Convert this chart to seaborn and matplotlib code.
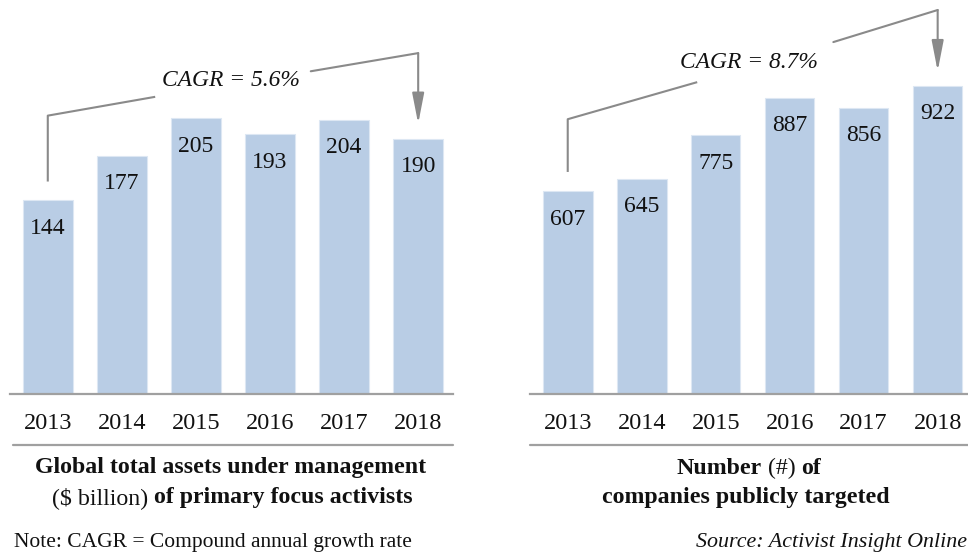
import matplotlib
matplotlib.use("Agg")
import matplotlib.pyplot as plt
import seaborn as sns
import pandas as pd

years = ["2013", "2014", "2015", "2016", "2017", "2018"]
aum_values = [144, 177, 205, 193, 204, 190]
targeted_values = [607, 645, 775, 887, 856, 922]
cagr_left = "CAGR = 5.6%"
cagr_right = "CAGR = 8.7%"

sns.set_theme(style="white")
FONT = "Liberation Serif"
plt.rcParams["font.family"] = FONT
plt.rcParams["font.serif"] = [FONT]

BAR = "#b9cde5"
GREY = "#8a8a8a"
AX_GREY = "#a0a0a0"
TXT = "#111111"
W, H = 968, 553
fig = plt.figure(figsize=(9.68, 5.53), dpi=100)

base_px = 394

def make_axes(x0, x1, ymax, values, xlim):
    ax = fig.add_axes([x0 / W, (H - base_px) / H, (x1 - x0) / W, base_px / H])
    df = pd.DataFrame({"year": years, "value": values})
    sns.barplot(data=df, x="year", y="value", color=BAR, width=0.67,
                edgecolor="#dde7f3", linewidth=0.8, saturation=1, ax=ax)
    ax.set_xlim(*xlim)
    ax.set_ylim(0, ymax)
    ax.set_xlabel("")
    ax.set_ylabel("")
    ax.set_yticks([])
    for s in ["top", "left", "right"]:
        ax.spines[s].set_visible(False)
    ax.spines["bottom"].set_color(AX_GREY)
    ax.spines["bottom"].set_linewidth(1.6)
    ax.tick_params(axis="x", length=0, pad=13.5, labelsize=17.5, colors=TXT)
    for lab in ax.get_xticklabels():
        lab.set_fontfamily(FONT)
    ax.patch.set_alpha(0)
    for i, v in enumerate(values):
        ax.annotate(str(v), (i, v), xytext=(0, -20), textcoords="offset points",
                    ha="center", va="center", fontsize=17, color=TXT,
                    fontfamily=FONT)
    return ax

axL = make_axes(10, 453, 293, aum_values, (-0.51, 5.47))
axR = make_axes(530, 968, 1180, targeted_values, (-0.51, 5.41))

# second rule under year labels
for ax, xs in [(axL, 0.007), (axR, 0.0)]:
    yb = -(445 - base_px) / base_px
    ax.plot([xs, 1], [yb, yb], transform=ax.transAxes, color=AX_GREY,
            lw=1.6, clip_on=False)

def bracket(ax, values, y_start_off, y_top, x_mid1, y_mid1, x_text, y_text,
            x_mid2, y_mid2, y_peak, arrow_off, text):
    n = len(values) - 1
    ax.plot([0, 0, x_mid1], [values[0] + y_start_off, y_top, y_mid1],
            color=GREY, lw=1.5, clip_on=False, solid_capstyle="butt")
    ax.plot([x_mid2, n], [y_mid2, y_peak], color=GREY, lw=1.5, clip_on=False)
    ax.annotate("", xy=(n, values[-1] + arrow_off), xytext=(n, y_peak),
                arrowprops=dict(arrowstyle="-|>,head_length=1.85,head_width=0.36",
                                mutation_scale=10, color=GREY, lw=1.5,
                                shrinkA=0, shrinkB=0), annotation_clip=False)
    ax.text(x_text, y_text, text, ha="center", va="center", fontsize=16.9,
            style="italic", color=TXT, fontfamily=FONT)

bracket(axL, aum_values, 14, 207, 1.45, 221, 2.47, 233, 3.55, 240, 253.5, 11, cagr_left)
bracket(axR, targeted_values, 58, 823, 1.75, 934, 2.45, 994, 3.59, 1054, 1150, 45, cagr_right)

# mixed-weight titles
fig.canvas.draw()
renderer = fig.canvas.get_renderer()

def rich_line(xc_px, yc_px, pieces, size=17.2):
    texts = []
    widths = []
    for s, w in pieces:
        t = fig.text(0, 1 - yc_px / H, s, fontsize=size, fontweight=w,
                     ha="left", va="center", color=TXT, fontfamily=FONT)
        texts.append(t)
        widths.append(t.get_window_extent(renderer).width)
    gap = 6
    total = sum(widths) + gap * (len(pieces) - 1)
    x = xc_px - total / 2
    for t, wd in zip(texts, widths):
        t.set_x(x / W)
        x += wd + gap

rich_line(231, 468, [("Global total assets under management", "bold")])
rich_line(232, 498, [("($ billion)", "normal"), ("of primary focus activists", "bold")])
rich_line(749, 468, [("Number", "bold"), ("(#)", "normal"), ("of", "bold")])
rich_line(746, 498, [("companies publicly targeted", "bold")])

fig.text(14 / W, 1 - 542 / H, "Note: CAGR = Compound annual growth rate",
         fontsize=15.5, ha="left", va="center", color=TXT, fontfamily=FONT)
fig.text(967 / W, 1 - 542 / H, "Source: Activist Insight Online",
         fontsize=15.8, style="italic", ha="right", va="center", color=TXT,
         fontfamily=FONT)

fig.savefig("out.png", dpi=100)
